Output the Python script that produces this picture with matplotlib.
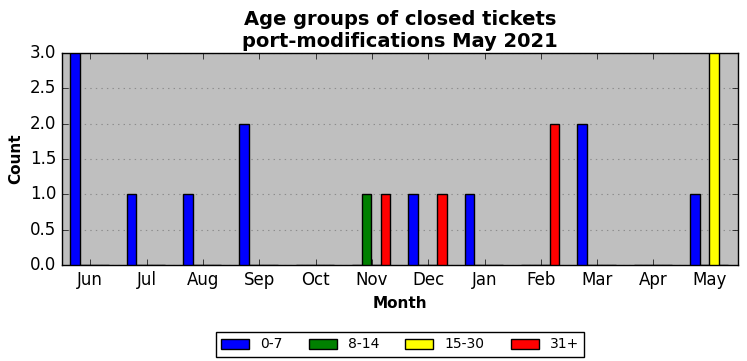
import matplotlib
matplotlib.use("Agg")
import matplotlib.pyplot as plt
import numpy as np

plt.style.use("classic")

months = ["Jun", "Jul", "Aug", "Sep", "Oct", "Nov", "Dec", "Jan", "Feb", "Mar", "Apr", "May"]
age_0_7 = [3, 1, 1, 2, 0, 0, 1, 1, 0, 2, 0, 1]
age_8_14 = [0, 0, 0, 0, 0, 1, 0, 0, 0, 0, 0, 0]
age_15_30 = [0, 0, 0, 0, 0, 0, 0, 0, 0, 0, 0, 3]
age_31p = [0, 0, 0, 0, 0, 1, 1, 0, 2, 0, 0, 0]

series = [("0-7", age_0_7, "blue"), ("8-14", age_8_14, "green"),
          ("15-30", age_15_30, "yellow"), ("31+", age_31p, "red")]

fig = plt.figure(figsize=(7.47, 3.61), dpi=100, facecolor="white")
ax = fig.add_axes([62/747, 1-265/361, (738-62)/747, (265-53)/361])
ax.set_facecolor("#bfbfbf")

x = np.arange(len(months))
w = 0.17
for k, (lab, vals, col) in enumerate(series):
    ax.bar(x - 0.35 + k*w, vals, width=w, align="edge", color=col,
           edgecolor="black", linewidth=1.0, label=lab, zorder=3)

ax.set_xlim(-0.5, 11.5)
ax.set_ylim(0, 3)
ax.set_yticks(np.arange(0, 3.01, 0.5))
ax.set_xticks(x)
ax.set_xticklabels(months)
ax.yaxis.grid(True, linestyle=":", color="#8c8c8c", linewidth=0.8, zorder=0)
ax.set_axisbelow(True)
ax.tick_params(labelsize=12)
ax.set_xlabel("Month", fontsize=11, fontweight="bold")
ax.set_ylabel("Count", fontsize=11, fontweight="bold")
ax.set_title("Age groups of closed tickets\nport-modifications May 2021",
             fontsize=14, fontweight="bold", y=0.995)

fig.legend(loc="upper center", bbox_to_anchor=(400/747, 1-325/361), ncol=4,
           fontsize=10, frameon=True, fancybox=False, handlelength=2.0,
           handletextpad=0.8, columnspacing=1.9, borderpad=0.4)

fig.savefig("out.png", dpi=100, facecolor="white")
